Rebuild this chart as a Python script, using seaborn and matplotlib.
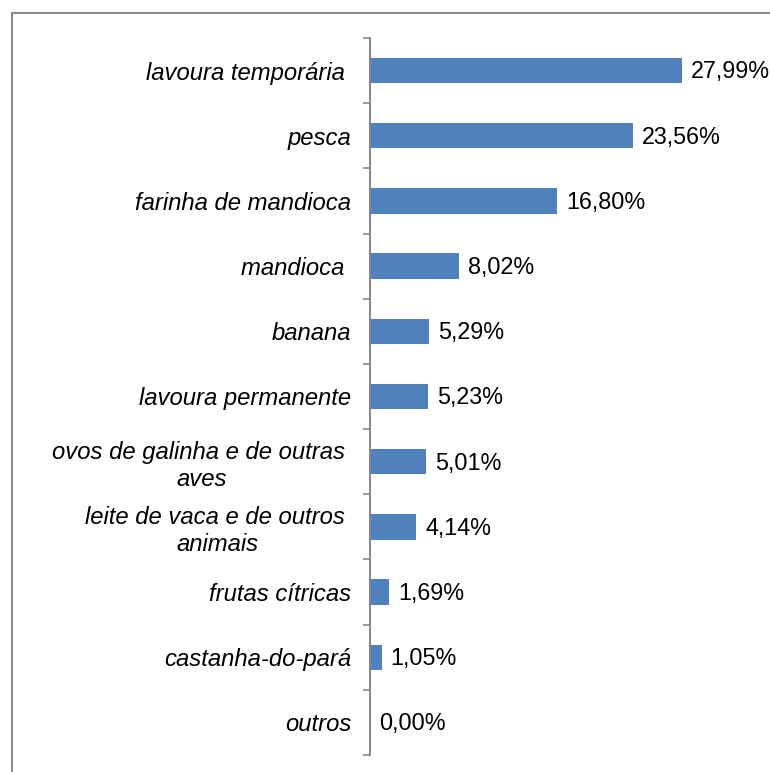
import matplotlib
matplotlib.use('Agg')
import matplotlib.pyplot as plt
import seaborn as sns
import pandas as pd
from matplotlib.lines import Line2D

categories = ["lavoura temporária ", "pesca", "farinha de mandioca", "mandioca ",
              "banana", "lavoura permanente", "ovos de galinha e de outras \naves",
              "leite de vaca e de outros \nanimais", "frutas cítricas",
              "castanha-do-pará", "outros"]
values = [27.99, 23.56, 16.80, 8.02, 5.29, 5.23, 5.01, 4.14, 1.69, 1.05, 0.00]
value_labels = ["27,99%", "23,56%", "16,80%", "8,02%", "5,29%", "5,23%",
                "5,01%", "4,14%", "1,69%", "1,05%", "0,00%"]

sns.set_theme(style="white")
plt.rcParams['font.family'] = ['Liberation Sans', 'DejaVu Sans']

W, H = 770, 772
fig = plt.figure(figsize=(W / 100, H / 100), dpi=100)
ax = fig.add_axes([370 / W, 1 - 755 / H, 400 / W, (755 - 38) / H])

df = pd.DataFrame({"cat": categories, "val": values})
sns.barplot(data=df, x="val", y="cat", orient="h", color="#4F81BD",
            saturation=1, width=0.39, linewidth=0, ax=ax)

ax.set_xlim(0, 400 / 11.15)
ax.set_ylim(len(categories) - 0.5, -0.5)
ax.set_xlabel("")
ax.set_ylabel("")
ax.set_xticks([])

for s in ["top", "right", "bottom"]:
    ax.spines[s].set_visible(False)
ax.spines["left"].set_color("#868686")
ax.spines["left"].set_linewidth(1.4)

FS = 17.2
ax.set_yticks(range(len(categories)))
ax.set_yticklabels(categories, fontsize=FS, style="italic", color="#000000",
                   multialignment="center", linespacing=1.2)
ax.set_yticks([i - 0.5 for i in range(len(categories) + 1)], minor=True)
ax.tick_params(axis="y", which="major", length=0, pad=13.5)
ax.tick_params(axis="y", which="minor", length=5, width=1.2, color="#868686",
               direction="out", left=True)

for i, (v, lbl) in enumerate(zip(values, value_labels)):
    ax.annotate(lbl, (v, i), xytext=(6.5, -1), textcoords="offset points",
                va="center", ha="left", fontsize=16.8, color="#000000")

fig.add_artist(Line2D([12 / W, 12 / W], [0, 1 - 13 / H], color="#8c8c8c",
                      lw=1.5, transform=fig.transFigure))
fig.add_artist(Line2D([12 / W, 1], [1 - 13 / H, 1 - 13 / H], color="#8c8c8c",
                      lw=1.5, transform=fig.transFigure))

fig.savefig("out.png", dpi=100, facecolor="white")
